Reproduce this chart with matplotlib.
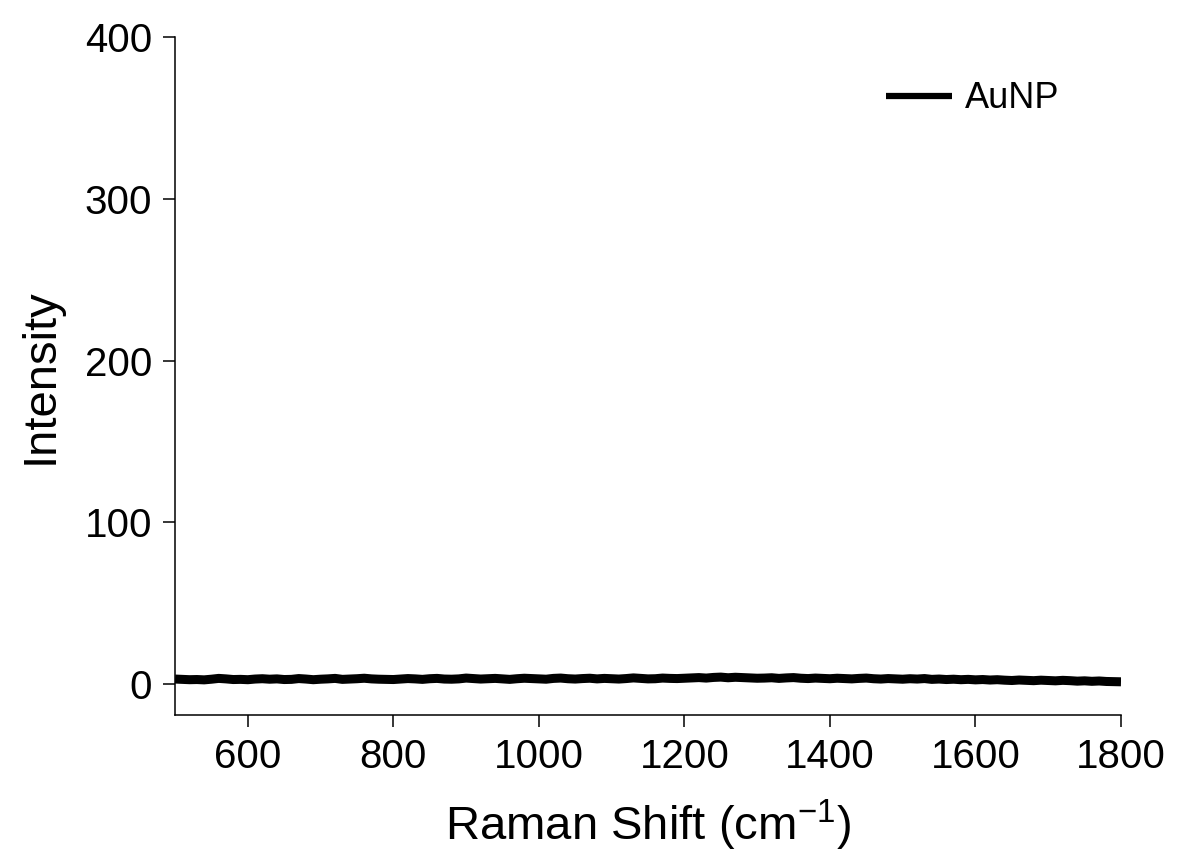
import matplotlib
matplotlib.use("Agg")
import matplotlib.pyplot as plt
import numpy as np

plt.rcParams['font.family'] = ['Liberation Sans', 'DejaVu Sans']
plt.rcParams['mathtext.fontset'] = 'custom'
plt.rcParams['mathtext.rm'] = 'Liberation Sans'

# Raman shift grid (cm-1), one reading every 10 cm-1
shift = np.arange(500, 1801, 10)
# intensity (flat AuNP baseline)
intensity = [
    3.2, 3.0, 2.8, 2.9, 2.7, 3.1, 3.6, 3.3, 2.9, 3.0,
    2.8, 3.2, 3.4, 3.1, 3.3, 2.9, 3.0, 3.5, 3.2, 2.8,
    3.1, 3.3, 3.6, 3.0, 3.2, 3.4, 3.7, 3.3, 3.1, 3.0,
    2.9, 3.2, 3.5, 3.3, 3.0, 3.4, 3.6, 3.2, 3.1, 3.3,
    3.8, 3.5, 3.2, 3.4, 3.6, 3.3, 3.0, 3.4, 3.7, 3.5,
    3.3, 3.1, 3.6, 3.8, 3.4, 3.2, 3.5, 3.7, 3.3, 3.6,
    3.4, 3.2, 3.5, 3.9, 3.6, 3.3, 3.4, 3.8, 3.6, 3.5,
    3.7, 3.9, 4.1, 3.8, 4.2, 4.4, 4.0, 4.3, 4.1, 3.9,
    3.7, 3.8, 4.0, 3.6, 3.9, 4.1, 3.7, 3.5, 3.8, 3.6,
    3.4, 3.7, 3.5, 3.3, 3.6, 3.8, 3.4, 3.2, 3.5, 3.3,
    3.1, 3.4, 3.2, 3.5, 3.0, 3.2, 2.9, 3.1, 2.8, 3.0,
    2.7, 2.9, 2.6, 2.8, 2.5, 2.3, 2.6, 2.4, 2.2, 2.5,
    2.3, 2.1, 2.4, 2.2, 1.9, 2.1, 1.8, 2.0, 1.7, 1.6,
    1.5,
]

fig = plt.figure(figsize=(11.78, 8.66), dpi=100)
ax = fig.add_axes([0.1486, 0.1744, 0.8030, 0.7829])

ax.plot(shift, intensity, color='black', linewidth=6.5, label='AuNP',
        solid_capstyle='butt')

ax.set_xlim(500, 1800)
ax.set_ylim(-19, 400)
ax.set_xticks([600, 800, 1000, 1200, 1400, 1600, 1800])
ax.set_yticks([0, 100, 200, 300, 400])

ax.spines['top'].set_visible(False)
ax.spines['right'].set_visible(False)
ax.spines['left'].set_linewidth(1.1)
ax.spines['bottom'].set_linewidth(1.1)
ax.tick_params(direction='out', length=8.5, width=1.1, labelsize=29, pad=8)

ax.set_xlabel('Raman Shift (cm$^{\\mathregular{-1}}$)', fontsize=34, labelpad=16)
ax.set_ylabel('Intensity', fontsize=34, labelpad=16)

leg = ax.legend(loc='center left', bbox_to_anchor=(0.7516, 0.9086),
                frameon=False, fontsize=26, handlelength=1.83,
                handletextpad=0.36, borderpad=0, borderaxespad=0)
for line in leg.get_lines():
    line.set_linewidth(4.5)

fig.savefig('out.png', dpi=100)
